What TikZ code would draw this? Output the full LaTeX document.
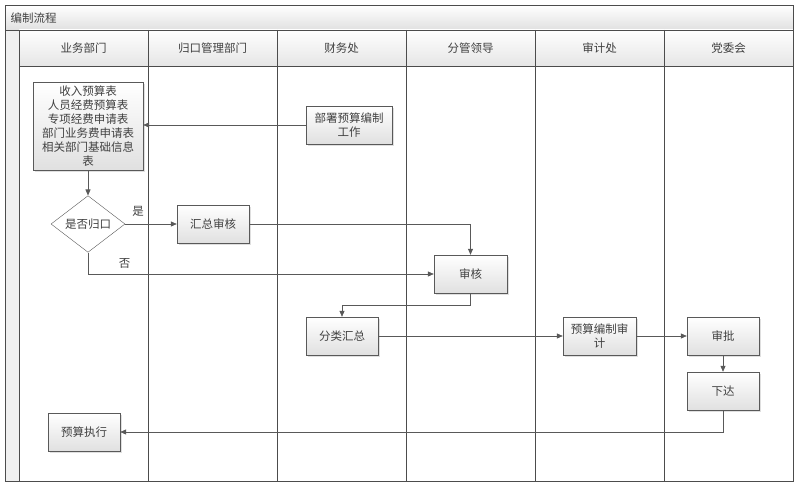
\documentclass[tikz,border=0pt]{standalone}
\usepackage{fontspec}
\setmainfont{Noto Sans CJK SC}
\usepackage{tikz}
\usetikzlibrary{arrows.meta, positioning, shapes.geometric, shadows}

\begin{document}
\begin{tikzpicture}[x=1pt,y=-1pt]
    \tikzstyle{every node} = [font=\fontsize{11.5}{14}\selectfont, text=black!75]
    \tikzstyle{block} = [draw=black!65, rectangle, top color=white, bottom color=black!12, drop shadow={shadow xshift=1.5pt, shadow yshift=-1.5pt, opacity=0.25}, minimum width=72pt, minimum height=38pt, inner sep=1pt, align=center]
    \tikzstyle{head} = [draw=black!70, line width=0.8pt, rectangle, top color=white, bottom color=black!10, minimum width=129pt, minimum height=36pt, inner sep=0pt]
    \tikzstyle{lane} = [draw=black!70, line width=0.8pt]
    \tikzstyle{link} = [-{Triangle[length=6pt,width=5pt]}, draw=black!65, line width=0.7pt]
    \useasboundingbox (0,0) rectangle (799,487);
    % frame
    \path[top color=white, bottom color=black!12] (5,5) rectangle (793,30);
    \path[fill=black!6] (5,30) rectangle (19,481);
    \node[anchor=west] (title) at (7,18) {编制流程};
    \node[head] (businessDept) at (83.5,48) {业务部门};
    \node[head] (adminDept) at (212.5,48) {归口管理部门};
    \node[head] (financeOffice) at (341.5,48) {财务处};
    \node[head] (leaderDept) at (470.5,48) {分管领导};
    \node[head] (auditOffice) at (599.5,48) {审计处};
    \node[head] (partyCommittee) at (728.5,48) {党委会};
    \draw[lane] (5,5) rectangle (793,481);
    \draw[lane] (5,30) -- (793,30);
    \draw[lane] (19,30) -- (19,481);
    \draw[lane] (148,30) -- (148,481);
    \draw[lane] (277,30) -- (277,481);
    \draw[lane] (406,30) -- (406,481);
    \draw[lane] (535,30) -- (535,481);
    \draw[lane] (664,30) -- (664,481);
    % place nodes
    \node[block, minimum width=110pt, minimum height=88pt] (budgetTables) at (88,126) {收入预算表\\人员经费预算表\\专项经费申请表\\部门业务费申请表\\相关部门基础信息\\表};
    \node[block, minimum width=86pt] (deployWork) at (349,125) {部署预算编制\\工作};
    \node[diamond, draw=black!65, fill=white, minimum width=74pt, minimum height=56pt, inner sep=0pt] (isCentral) at (88,224) {是否归口};
    \node[block] (summaryReview) at (213,224) {汇总审核};
    \node[block, minimum width=73pt] (leaderReview) at (470.5,274) {审核};
    \node[block] (classifySum) at (342,336) {分类汇总};
    \node[block, minimum width=73pt] (budgetAudit) at (599.5,336) {预算编制审\\计};
    \node[block] (approveNode) at (723,336) {审批};
    \node[block] (issueNode) at (723,391) {下达};
    \node[block] (executeNode) at (84,432) {预算执行};
    % Connections
    \draw[link] (deployWork.west) -- (deployWork.west -| budgetTables.east);
    \draw[link] (budgetTables.south) -- (isCentral.north);
    \draw[link] (isCentral.east) -- node[near start, above=4pt]{是} (summaryReview.west);
    \draw[link] (summaryReview.east) -| (leaderReview.north);
    \draw[link] (isCentral.south) |- node[pos=0.553, above=2pt]{否} (leaderReview.west);
    \draw[link] (leaderReview.south) -- ++(0,12) -| (classifySum.north);
    \draw[link] (classifySum.east) -- (budgetAudit.west);
    \draw[link] (budgetAudit.east) -- (approveNode.west);
    \draw[link] (approveNode.south) -- (issueNode.north);
    \draw[link] (issueNode.south) |- (executeNode.east);
\end{tikzpicture}
\end{document}
